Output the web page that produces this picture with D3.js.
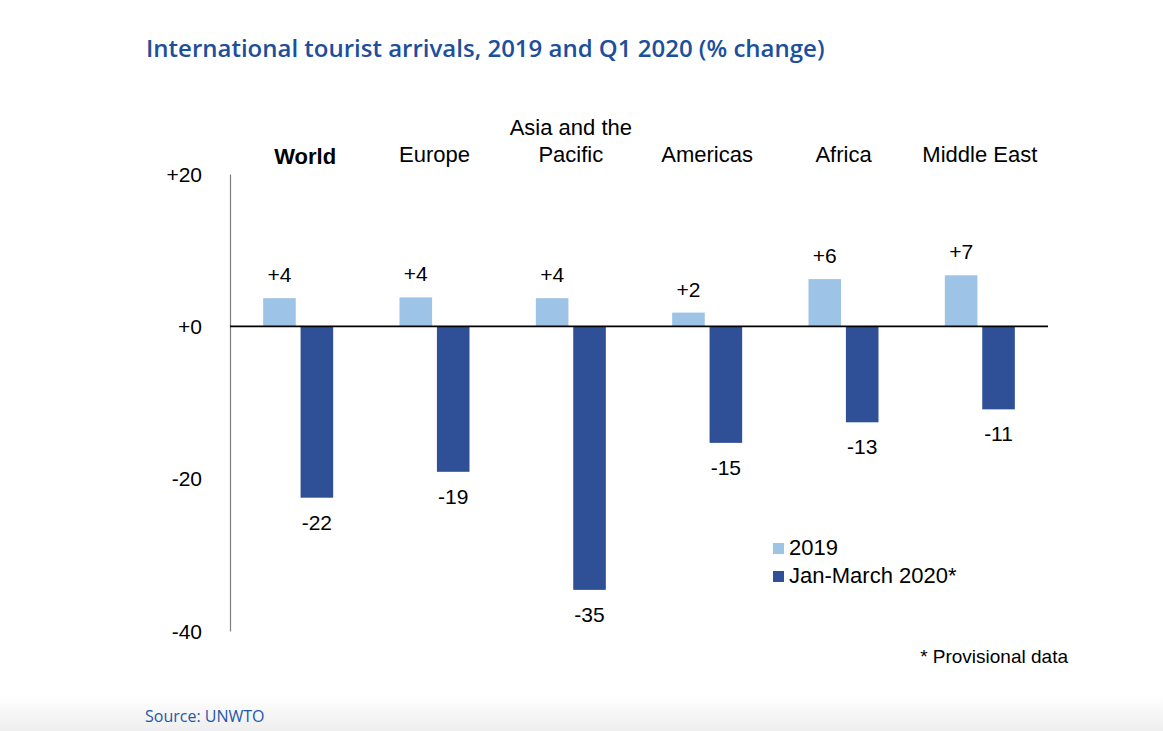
<!DOCTYPE html>
<html>
<head>
<meta charset="utf-8">
<script src="https://cdn.jsdelivr.net/npm/d3@7/dist/d3.min.js"></script>
<style>
  html, body { margin: 0; padding: 0; background: #fff; }
  svg { display: block; }
</style>
</head>
<body>
<svg id="chart" width="1163" height="731"></svg>
<script>
// ---- data ----
const categories = ["World", "Europe", "Asia and the Pacific", "Americas", "Africa", "Middle East"];
const categoryLines = [["World"], ["Europe"], ["Asia and the", "Pacific"], ["Americas"], ["Africa"], ["Middle East"]];
const seriesNames = ["2019", "Jan-March 2020*"];
const values2019 = [3.7, 3.8, 3.7, 1.8, 6.2, 6.7];
const values2020 = [-22.5, -19.1, -34.6, -15.3, -12.6, -10.9];
const labels2019 = ["+4", "+4", "+4", "+2", "+6", "+7"];
const labels2020 = ["-22", "-19", "-35", "-15", "-13", "-11"];
const yTicks = [20, 0, -20, -40];
const yTickLabels = ["+20", "+0", "-20", "-40"];

const colors = ["#9dc3e6", "#2f5097"];
const FONT = "'Liberation Sans', Arial, Helvetica, sans-serif";

const svg = d3.select("#chart");

// bottom gradient band
const defs = svg.append("defs");
const grad = defs.append("linearGradient").attr("id", "bottomGrad")
  .attr("x1", 0).attr("y1", 0).attr("x2", 0).attr("y2", 1);
grad.append("stop").attr("offset", "0%").attr("stop-color", "#ffffff");
grad.append("stop").attr("offset", "100%").attr("stop-color", "#eeeeee");
svg.append("rect").attr("x", 0).attr("y", 695).attr("width", 1163).attr("height", 36)
  .attr("fill", "url(#bottomGrad)");

// title
svg.append("text")
  .attr("x", 146).attr("y", 57)
  .attr("font-family", "'Open Sans', sans-serif")
  .attr("font-weight", 600)
  .attr("font-size", 24)
  .attr("fill", "#1c4f9c")
  .text("International tourist arrivals, 2019 and Q1 2020 (% change)");

// source
svg.append("text")
  .attr("x", 145).attr("y", 722)
  .attr("font-family", "'Open Sans', sans-serif")
  .attr("font-size", 16)
  .attr("fill", "#2457a7")
  .text("Source: UNWTO");

// scales
const x0 = d3.scaleBand().domain(categories).range([230, 1048]).paddingInner(0).paddingOuter(0);
const bw = x0.bandwidth();
const x1 = d3.scaleBand().domain(["a", "b"]).range([bw / 2 - 35, bw / 2 + 35]).paddingInner(9 / 70);
const y = d3.scaleLinear().domain([-40, 20]).range([631, 174]);

// y axis (line + labels)
const yAxis = d3.axisLeft(y).tickValues(yTicks).tickSize(0).tickPadding(28)
  .tickFormat((d, i) => yTickLabels[i]);
const gy = svg.append("g").attr("transform", "translate(230,0)").call(yAxis);
gy.select(".domain").attr("stroke", "#7f7f7f").attr("stroke-width", 1.2);
gy.selectAll("text")
  .attr("font-family", FONT).attr("font-size", 21).attr("fill", "#000")
  .attr("dy", "0.34em");

// bars
const g = svg.append("g");
categories.forEach((c, i) => {
  const bx = x0(c);
  // 2019
  g.append("rect")
    .attr("x", bx + x1("a")).attr("width", x1.bandwidth())
    .attr("y", y(Math.max(0, values2019[i])))
    .attr("height", Math.abs(y(values2019[i]) - y(0)))
    .attr("fill", colors[0]);
  // 2020
  g.append("rect")
    .attr("x", bx + x1("b")).attr("width", x1.bandwidth())
    .attr("y", y(Math.max(0, values2020[i])))
    .attr("height", Math.abs(y(values2020[i]) - y(0)))
    .attr("fill", colors[1]);
  // value labels
  g.append("text")
    .attr("x", bx + x1("a") + x1.bandwidth() / 2)
    .attr("y", y(values2019[i]) - 16)
    .attr("text-anchor", "middle")
    .attr("font-family", FONT).attr("font-size", 21).attr("fill", "#000")
    .text(labels2019[i]);
  g.append("text")
    .attr("x", bx + x1("b") + x1.bandwidth() / 2)
    .attr("y", y(values2020[i]) + 32)
    .attr("text-anchor", "middle")
    .attr("font-family", FONT).attr("font-size", 21).attr("fill", "#000")
    .text(labels2020[i]);
  // category labels
  const lines = categoryLines[i];
  const t = svg.append("text")
    .attr("text-anchor", "middle")
    .attr("font-family", FONT).attr("font-size", 22).attr("fill", "#000")
    .attr("font-weight", i === 0 ? "bold" : "normal");
  lines.forEach((ln, k) => {
    t.append("tspan")
      .attr("x", bx + bw / 2 + (i === 0 ? 7 : 0))
      .attr("y", (i === 0 ? 164 : 162) - (lines.length - 1 - k) * 27)
      .text(ln);
  });
});

// zero line
svg.append("line")
  .attr("x1", 230).attr("x2", 1048)
  .attr("y1", y(0)).attr("y2", y(0))
  .attr("stroke", "#000").attr("stroke-width", 1.6);

// legend
const legend = svg.append("g").attr("transform", "translate(773,543)");
seriesNames.forEach((s, i) => {
  legend.append("rect").attr("x", 0).attr("y", i * 28).attr("width", 11).attr("height", 11)
    .attr("fill", colors[i]);
  legend.append("text").attr("x", 16).attr("y", i * 28 + 12)
    .attr("font-family", FONT).attr("font-size", 22).attr("fill", "#000")
    .text(s);
});

// footnote
svg.append("text")
  .attr("x", 1068).attr("y", 663)
  .attr("text-anchor", "end")
  .attr("font-family", FONT).attr("font-size", 19).attr("fill", "#000")
  .text("* Provisional data");
</script>
</body>
</html>
